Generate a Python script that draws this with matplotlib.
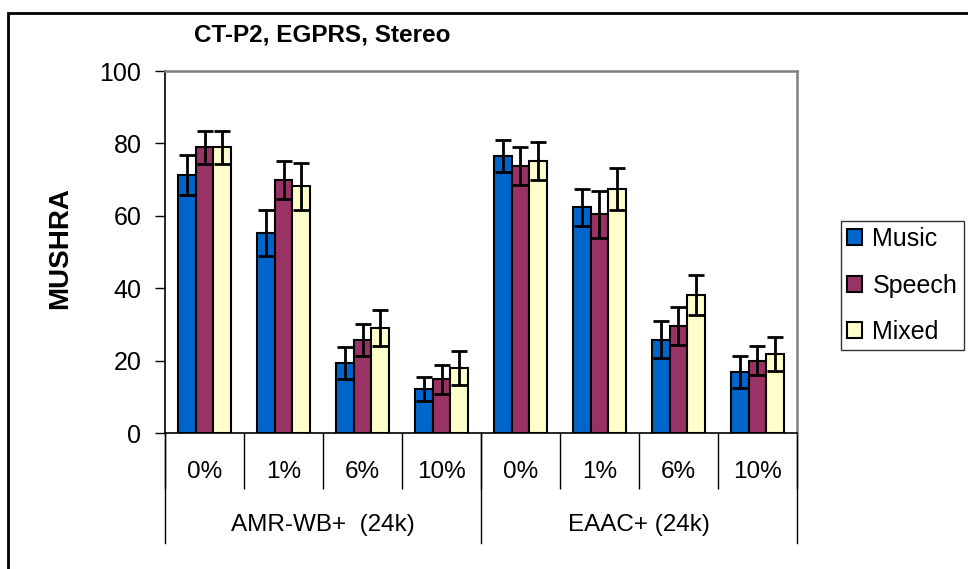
import matplotlib
matplotlib.use("Agg")
import matplotlib.pyplot as plt
import numpy as np

plt.rcParams['font.family'] = ['Liberation Sans', 'DejaVu Sans']

# data
rates = ['0%', '1%', '6%', '10%', '0%', '1%', '6%', '10%']
codecs = ['AMR-WB+  (24k)', 'EAAC+ (24k)']
series = ['Music', 'Speech', 'Mixed']
colors = ['#0066CC', '#993366', '#FFFFCC']

music = [71.3, 55.3, 19.3, 12.2, 76.5, 62.3, 25.8, 16.8]
speech = [78.9, 69.9, 25.8, 14.8, 73.8, 60.4, 29.5, 20.0]
mixed = [78.9, 68.1, 29.0, 18.0, 75.2, 67.4, 38.1, 21.8]

music_err = [5.5, 6.4, 4.5, 3.3, 4.4, 5.1, 5.1, 4.5]
speech_err = [4.5, 5.3, 4.4, 3.9, 5.2, 6.5, 5.3, 3.9]
mixed_err = [4.5, 6.5, 5.1, 4.6, 5.2, 5.9, 5.6, 4.6]

fig = plt.figure(figsize=(9.68, 5.69), dpi=100)
ax = fig.add_axes([0.1705, 0.239, 0.6528, 0.6362])

x = np.arange(len(rates))
w = 0.225
vals = [music, speech, mixed]
errs = [music_err, speech_err, mixed_err]
for i in range(3):
    ax.bar(x + (i - 1) * w, vals[i], w, yerr=errs[i], color=colors[i],
           edgecolor='black', linewidth=1.5, label=series[i],
           error_kw=dict(elinewidth=2, capsize=6, capthick=2, ecolor='black'))

ax.set_xlim(-0.5, len(rates) - 0.5)
ax.set_ylim(0, 100)
ax.set_yticks([0, 20, 40, 60, 80, 100])
ax.tick_params(axis='y', labelsize=18, length=7, width=1, direction='out', pad=10)

# category labels and separators
ax.set_xticks(x)
ax.set_xticklabels(rates, fontsize=17.5)
ax.tick_params(axis='x', which='major', length=0, pad=20)
ax.set_xticks(np.arange(-0.5, len(rates), 1), minor=True)
ax.tick_params(axis='x', which='minor', length=40, width=1, color='black')

trans = ax.get_xaxis_transform()
for b in [-0.5, 3.5, 7.5]:
    ax.plot([b, b], [0, -0.305], transform=trans, color='black', lw=1, clip_on=False)
for j, c in enumerate(codecs):
    ax.text(1.5 + 4 * j, -0.255, c, transform=trans, ha='center', va='center', fontsize=17.5)

for s in ['left', 'bottom']:
    ax.spines[s].set_color('black')
    ax.spines[s].set_linewidth(1.2)
for s in ['top', 'right']:
    ax.spines[s].set_color('#808080')
    ax.spines[s].set_linewidth(1.8)

fig.text(60 / 968, 1 - 248 / 569, 'MUSHRA', rotation=90, ha='center', va='center',
         fontsize=20, fontweight='bold')
fig.text(0.333, 0.938, 'CT-P2, EGPRS, Stereo', ha='center', va='center',
         fontsize=17.5, fontweight='bold')

leg = fig.legend(loc='upper left', bbox_to_anchor=(0.869, 0.612), fontsize=18,
                 frameon=True, fancybox=False, edgecolor='black', handlelength=0.6,
                 handleheight=0.6, handletextpad=0.4, labelspacing=0.9,
                 borderpad=0.25, borderaxespad=0)
leg.get_frame().set_linewidth(1)

# outer frame of the chart
fig.patches.append(plt.Rectangle((8 / 968, -0.1), 1.1, 1 - 13 / 569 + 0.1,
                                 transform=fig.transFigure, fill=False,
                                 edgecolor='black', linewidth=2))

fig.savefig('out.png', dpi=100)
